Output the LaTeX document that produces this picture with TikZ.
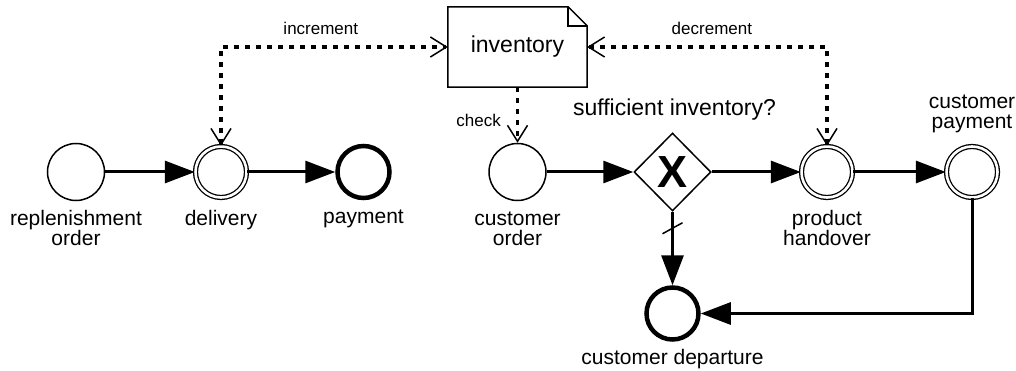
\documentclass[tikz,border=0pt]{standalone}
\usepackage{fontspec}
\setmainfont{Liberation Sans}
\usetikzlibrary{shapes.geometric, arrows.meta, positioning}

\begin{document}
\begin{tikzpicture}[x=1pt, y=-1pt, node distance=145pt, align=center]
    % Define styles
    \tikzstyle{startev} = [circle, draw=black, line width=1.5pt, minimum size=57pt, inner sep=0pt]
    \tikzstyle{midev} = [circle, draw=black, line width=1.3pt, double, double distance=2.6pt, minimum size=51pt, inner sep=0pt]
    \tikzstyle{endev} = [circle, draw=black, line width=4.5pt, minimum size=52pt, inner sep=0pt]
    \tikzstyle{gateway} = [diamond, draw=black, line width=1.5pt, minimum width=77pt, minimum height=78pt, inner sep=0pt, font=\fontsize{45}{45}\selectfont\bfseries]
    \tikzstyle{doc} = [rectangle, minimum width=139pt, minimum height=80pt, inner sep=0pt, font=\fontsize{23}{23}\selectfont]
    \tikzstyle{lbl} = [inner sep=0pt, font=\fontsize{21}{20}\selectfont]
    \tikzstyle{big} = [inner sep=0pt, font=\fontsize{23}{23}\selectfont]
    \tikzstyle{small} = [inner sep=0pt, font=\fontsize{17}{17}\selectfont]
    \tikzstyle{seq} = [line width=3pt, -{Triangle[length=30pt, width=22pt]}]
    \tikzstyle{assoc} = [line width=3.5pt, dash pattern=on 5pt off 6pt]
    \tikzstyle{barb} = [-{Straight Barb[length=16pt, width=20pt, line width=1.5pt]}]
    \tikzstyle{barbs} = [{Straight Barb[length=16pt, width=20pt, line width=1.5pt]}-{Straight Barb[length=16pt, width=20pt, line width=1.5pt]}]

    \useasboundingbox (0,0) rectangle (1016,371);

    % Nodes
    \node (repl) [startev] at (76,172) {};
    \node (deliv) [midev, right of=repl] {};
    \node (pay) [endev, right of=deliv, node distance=142.5pt] {};
    \node (corder) [startev, right of=pay, node distance=154pt] {};
    \node (gw) [gateway, right of=corder, node distance=155pt] {X};
    \node (hand) [midev, right of=gw, node distance=154.5pt] {};
    \node (cpay) [midev, right of=hand] {};
    \node (dep) [endev, below of=gw, node distance=141.5pt] {};
    \node (inv) [doc, above of=corder, node distance=125pt] {inventory};

    % Labels
    \node (repllbl) [lbl, below of=repl, node distance=56pt] {replenishment\\order};
    \node (delivlbl) [lbl, below of=deliv, node distance=48pt] {delivery};
    \node (paylbl) [lbl, below of=pay, node distance=47pt] {payment};
    \node (corderlbl) [lbl, below of=corder, node distance=57pt] {customer\\order};
    \node (handlbl) [lbl, below of=hand, node distance=56pt] {product\\handover};
    \node (cpaylbl) [lbl, above of=cpay, node distance=58pt] {customer\\payment};
    \node (deplbl) [lbl, below of=dep, node distance=45.5pt] {customer departure};
    \node (gwlbl) [big, above of=gw, node distance=62pt, xshift=2pt] {sufficient inventory?};

    % Document shape
    \draw [line width=1.5pt] (inv.south west) -- (inv.north west) -- ([xshift=-19pt]inv.north east)
        -- ([yshift=-19pt]inv.north east) -- (inv.south east) -- cycle;
    \draw [line width=1.5pt] ([xshift=-19pt]inv.north east) |- ([yshift=-19pt]inv.north east);

    % Sequence flows
    \draw [seq] (repl) -- (deliv);
    \draw [seq] (deliv) -- (pay);
    \draw [seq] (corder) -- (gw);
    \draw [seq] (gw) -- (hand);
    \draw [seq] (hand) -- (cpay);
    \draw [seq] (gw) -- (dep);
    \draw [seq] (cpay) |- (dep);
    \draw [line width=1.5pt] ([shift={(-10,22)}]gw.south) -- ([shift={(10,11)}]gw.south);

    % Associations
    \draw [assoc, barbs] (deliv) |- node[small, pos=0.72, above=11pt] (incrlbl) {increment} (inv);
    \draw [assoc, barbs] (hand) |- node[small, pos=0.74, above=11pt] (decrlbl) {decrement} (inv);
    \draw [assoc, barb] (inv) -- node[small, pos=0.59, left=15pt] (chklbl) {check} (corder);
\end{tikzpicture}
\end{document}
